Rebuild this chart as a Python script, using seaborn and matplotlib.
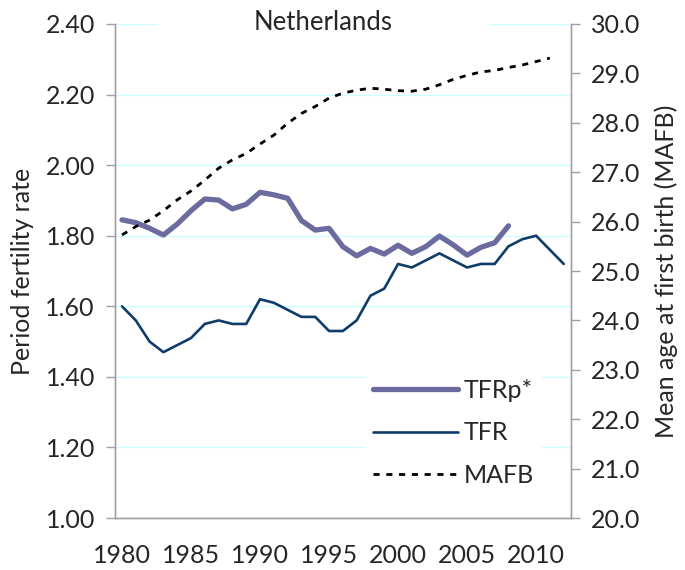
import numpy as np
import matplotlib
matplotlib.use('Agg')
import matplotlib.pyplot as plt
from matplotlib.patches import Rectangle
import seaborn as sns

# Values
years_tfrp = list(range(1980, 2009))
tfrp = [1.845, 1.837, 1.821, 1.802, 1.833, 1.871, 1.904, 1.901, 1.876, 1.889,
        1.923, 1.916, 1.906, 1.843, 1.816, 1.821, 1.769, 1.743, 1.764, 1.748,
        1.773, 1.750, 1.769, 1.799, 1.774, 1.745, 1.767, 1.780, 1.828]

years_tfr = list(range(1980, 2013))
tfr = [1.60, 1.56, 1.50, 1.47, 1.49, 1.51, 1.55, 1.56, 1.55, 1.55,
       1.62, 1.61, 1.59, 1.57, 1.57, 1.53, 1.53, 1.56, 1.63, 1.65,
       1.72, 1.71, 1.73, 1.75, 1.73, 1.71, 1.72, 1.72, 1.77, 1.79,
       1.80, 1.76, 1.72]

years_mafb = list(range(1980, 2012))
mafb = [25.73, 25.90, 26.03, 26.22, 26.44, 26.62, 26.84, 27.08, 27.25, 27.38,
        27.57, 27.75, 27.99, 28.19, 28.33, 28.50, 28.60, 28.66, 28.70, 28.68,
        28.65, 28.64, 28.68, 28.77, 28.88, 28.96, 29.03, 29.06, 29.12, 29.17,
        29.24, 29.31]

left_ticks = [1.00, 1.20, 1.40, 1.60, 1.80, 2.00, 2.20, 2.40]
right_ticks = [20.0, 21.0, 22.0, 23.0, 24.0, 25.0, 26.0, 27.0, 28.0, 29.0, 30.0]
x_labels = [1980, 1985, 1990, 1995, 2000, 2005, 2010]

sns.set_style('white')
plt.rcParams['font.family'] = ['Lato', 'DejaVu Sans']

axis_grey = '#a0a0a0'
fs = 18

fig = plt.figure(figsize=(6.85, 5.7), dpi=100)
ax = fig.add_axes([0.168, 0.0912, 0.665, 0.8667])
ax2 = ax.twinx()

# gridlines (pale cyan)
ax.set_axisbelow(True)
ax.yaxis.grid(True, color='#ccffff', lw=1)
ax.xaxis.grid(False)

# white box behind the title hides the top gridline
ax.add_patch(Rectangle((0.094, 0.965), 0.73, 0.07, transform=ax.transAxes,
                       facecolor='white', edgecolor='none', zorder=1, clip_on=False))

sns.lineplot(x=years_tfrp, y=tfrp, ax=ax, color='#6B6BA0', lw=3.8, label='TFRp*', zorder=3)
sns.lineplot(x=years_tfr, y=tfr, ax=ax, color='#0F3C69', lw=1.9, label='TFR', zorder=3)
sns.lineplot(x=years_mafb, y=mafb, ax=ax2, color='black', lw=2.0, label='MAFB')
ax2.lines[0].set_dashes([2.2, 2.4])

ax.set_xlim(1979.5, 2012.5)
ax.set_ylim(1.0, 2.4)
ax2.set_ylim(20.0, 30.0)

ax.set_yticks(left_ticks)
ax.set_yticklabels([f'{v:.2f}' for v in left_ticks])
ax2.set_yticks(right_ticks)
ax2.set_yticklabels([f'{v:.1f}' for v in right_ticks])

ax.set_xticks(x_labels)
ax.set_xticklabels([str(y) for y in x_labels])
ax.set_xticks(np.arange(1979.5, 2013, 1.0), minor=True)
ax.tick_params(axis='x', which='major', length=0, pad=19, labelsize=fs)
ax.tick_params(axis='x', which='minor', length=6, width=1, color=axis_grey, direction='out')
ax.tick_params(axis='y', length=6.5, width=1, color=axis_grey, direction='out',
               pad=8, labelsize=fs, left=True)
ax2.tick_params(axis='y', length=6.5, width=1, color=axis_grey, direction='out',
                pad=8, labelsize=fs, right=True)

for a in (ax, ax2):
    a.spines['top'].set_visible(False)
    for side in ('left', 'right', 'bottom'):
        a.spines[side].set_color(axis_grey)
        a.spines[side].set_linewidth(1)

ax.set_ylabel('Period fertility rate', fontsize=fs, labelpad=8)
ax2.set_ylabel('Mean age at first birth (MAFB)', fontsize=fs, labelpad=10)

ax.text(0.457, 1.003, 'Netherlands', transform=ax.transAxes, ha='center', va='center',
        fontsize=fs + 0.5, zorder=5)

# one legend for both axes
h1, l1 = ax.get_legend_handles_labels()
h2, l2 = ax2.get_legend_handles_labels()
ax.get_legend().remove()
ax2.get_legend().remove()
leg = ax2.legend(h1 + h2, l1 + l2, loc='center left', bbox_to_anchor=(365 / 685, 1 - 433 / 570),
                 bbox_transform=fig.transFigure, frameon=True, fontsize=fs,
                 handlelength=3.4, handletextpad=0.25, labelspacing=0.78,
                 borderpad=0.3, borderaxespad=0)
leg.get_frame().set_facecolor('white')
leg.get_frame().set_edgecolor('none')
leg.get_frame().set_alpha(1)

plt.savefig('out.png', dpi=100)
